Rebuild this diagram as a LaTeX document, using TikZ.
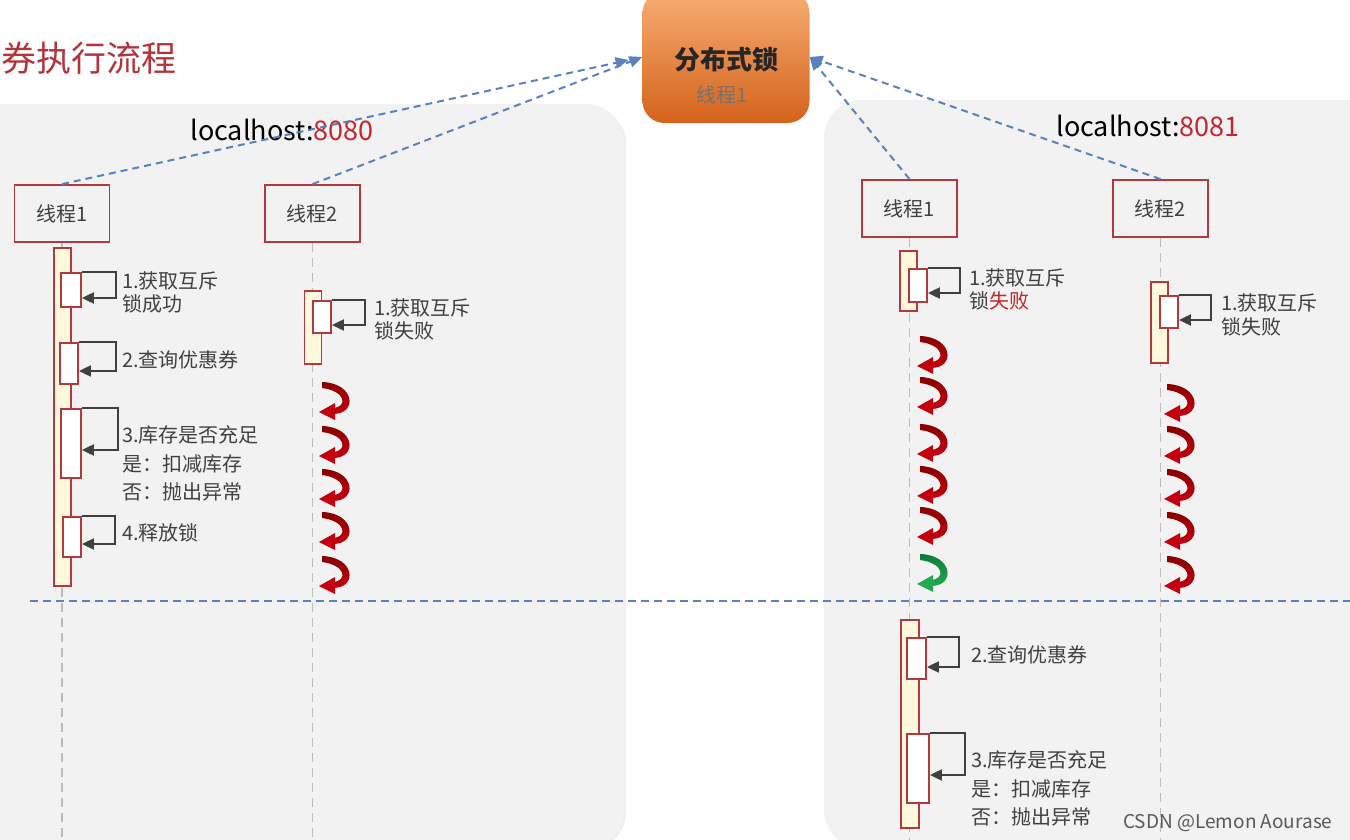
\documentclass[tikz,border=0pt]{standalone}
\usepackage{fontspec}
\setmainfont{Noto Sans CJK SC}
\usepackage{tikz}
\usetikzlibrary{arrows.meta,shadows}
\definecolor{boxred}{HTML}{B23A3E}
\definecolor{portred}{HTML}{C1272D}
\definecolor{titlered}{HTML}{B3343A}
\definecolor{txtgray}{HTML}{404040}
\definecolor{linkblue}{HTML}{5A82BE}
\definecolor{lifegray}{HTML}{BDBDBD}
\definecolor{panelgray}{HTML}{F2F2F2}
\definecolor{barfill}{HTML}{FFF8DC}
\definecolor{spindark}{HTML}{880000}
\definecolor{spinred}{HTML}{C40010}
\definecolor{greendark}{HTML}{0E7A38}
\definecolor{greenlite}{HTML}{24A852}
\definecolor{lockhi}{HTML}{F6AE74}
\definecolor{locklo}{HTML}{D5621A}
\tikzset{
  panel/.style={fill=panelgray, rounded corners=38pt,
    drop shadow={opacity=0.12, shadow xshift=2pt, shadow yshift=-2pt}},
  lockbox/.style={rounded corners=22pt, top color=lockhi, bottom color=locklo,
    minimum width=167pt, minimum height=132pt, inner sep=0pt},
  tbox/.style={draw=boxred, line width=1.8pt, minimum width=95pt, minimum height=57pt,
    inner sep=0pt, text=txtgray, font=\fontsize{20}{24}\selectfont},
  actbar/.style={draw=boxred, line width=1.8pt, fill=barfill, inner sep=0pt, minimum width=17pt},
  inbox/.style={draw=boxred, line width=1.8pt, fill=white, inner sep=0pt},
  lifeline/.style={lifegray, line width=1.6pt, dash pattern=on 9pt off 6pt},
  link/.style={linkblue, line width=2pt, dash pattern=on 7pt off 5pt,
    -{Triangle[length=13pt,width=11pt]}},
  selfarr/.style={draw=txtgray, line width=2pt, -{Triangle[length=12pt,width=11pt]}},
  steplabel/.style={anchor=west, inner sep=0pt, align=left, text=txtgray,
    font=\fontsize{20}{23.5}\selectfont},
}
% self call: box, turn x, arrow y
\newcommand{\selfcall}[3]{\draw[selfarr] (#1.north east) -| (#2,#3) -- (#1.east |- 0,#3);}
% spinning arrow: lifeline x, top y, dark, light
\newcommand{\spin}[4]{%
  \begin{scope}[shift={(#1,#2)}]
    \shade[top color=#3, bottom color=#4] (9,-1) .. controls (42,0) and (45,31) .. (20,31)
      -- (20,25) .. controls (35,24) and (33,8) .. (9,5) -- cycle;
    \fill[#4] (22,20) -- (22,37) -- (6,29) -- cycle;
  \end{scope}}

\begin{document}
\begin{tikzpicture}[x=1pt, y=-1pt]
  \useasboundingbox (0,0) rectangle (1350,840);
  \fill[white] (0,0) rectangle (1350,840);

  % panels
  \fill[panel] (-60,104) rectangle (624,848);
  \fill[panel] (824,100) rectangle (1420,848);

  % title
  \node [anchor=west, inner sep=0pt, text=titlered, font=\fontsize{35}{40}\selectfont] (title) at (1,58) {券执行流程};

  % lock
  \node [lockbox] (lock) at (726,57) {};
  \node [font=\fontsize{26}{30}\selectfont\bfseries, text=black!85] (locktitle) at (726,60) {分布式锁};
  \node [font=\fontsize{20}{24}\selectfont, text=black!55] (lockthr) at (722,95) {线程1};

  % hosts
  \node [font=\fontsize{27}{30}\selectfont] (host1) at (282,130) {localhost:\textcolor{portred}{8080}};
  \node [font=\fontsize{27}{30}\selectfont] (host2) at (1148,126) {localhost:\textcolor{portred}{8081}};

  % threads
  \node [tbox] (l1) at (62,213.5) {线程1};
  \node [tbox] (l2) at (312.5,213.5) {线程2};
  \node [tbox] (r1) at (909.5,208.5) {线程1};
  \node [tbox] (r2) at (1160.5,208.5) {线程2};

  % lifelines
  \draw[lifeline] (l1.south) -- (l1.south |- 0,845);
  \draw[lifeline] (l2.south) -- (l2.south |- 0,845);
  \draw[lifeline] (r1.south) -- (r1.south |- 0,845);
  \draw[lifeline] (r2.south) -- (r2.south |- 0,845);

  % links to lock
  \draw[link, shorten >=14pt] (l1.north) -- (lock.west);
  \draw[link] (l2.north) -- (lock.west);
  \draw[link] (r1.north) -- (lock.east);
  \draw[link] (r2.north) -- (lock.east);

  % divider
  \draw[linkblue, line width=2pt, dash pattern=on 8pt off 5pt] (30,601) -- (1350,601);

  % 8080 thread 1
  \node [actbar, minimum height=338pt] (l1act) at (62.5,417) {};
  \node [inbox, minimum width=20pt, minimum height=34pt] (l1b1) at (71,290) {};
  \node [inbox, minimum width=18pt, minimum height=41pt] (l1b2) at (69,363.5) {};
  \node [inbox, minimum width=20pt, minimum height=69pt] (l1b3) at (71,443.5) {};
  \node [inbox, minimum width=18pt, minimum height=40pt] (l1b4) at (72,537) {};
  \selfcall{l1b1}{116}{298}
  \selfcall{l1b2}{116}{371}
  \selfcall{l1b3}{118}{450}
  \selfcall{l1b4}{115}{544}
  \node [steplabel] (l1s1) at (122,292.5) {1.获取互斥\\锁成功};
  \node [steplabel] (l1s2) at (122,360) {2.查询优惠券};
  \node [steplabel, font=\fontsize{20}{28.5}\selectfont] (l1s3) at (122,463.5) {3.库存是否充足\\是：扣减库存\\否：抛出异常};
  \node [steplabel] (l1s4) at (122,533) {4.释放锁};

  % 8080 thread 2
  \node [actbar, minimum height=73pt] (l2act) at (313,327.5) {};
  \node [inbox, minimum width=18pt, minimum height=32pt] (l2b1) at (322,317) {};
  \selfcall{l2b1}{365}{325}
  \node [steplabel] (l2s1) at (374,319.5) {1.获取互斥\\锁失败};
  \foreach \t in {383,427,470,513,557} {\spin{313}{\t}{spindark}{spinred}}

  % 8081 thread 1
  \node [actbar, minimum height=60pt] (r1act) at (908.5,281) {};
  \node [inbox, minimum width=18pt, minimum height=33pt] (r1b1) at (918,285.5) {};
  \selfcall{r1b1}{960}{293}
  \node [steplabel] (r1s1) at (969,289.5) {1.获取互斥\\锁\textcolor{portred}{失败}};
  \foreach \t in {337,378,425,467,508} {\spin{911}{\t}{spindark}{spinred}}
  \spin{911}{555}{greendark}{greenlite}
  \node [actbar, minimum height=208pt, minimum width=18pt] (r1act2) at (910,724) {};
  \node [inbox, minimum width=19pt, minimum height=41pt] (r1b2) at (916.5,658.5) {};
  \node [inbox, minimum width=22pt, minimum height=69pt] (r1b3) at (918,768.5) {};
  \selfcall{r1b2}{959}{667}
  \selfcall{r1b3}{965}{775}
  \node [steplabel] (r1s2) at (971,655) {2.查询优惠券};
  \node [steplabel, font=\fontsize{20}{28.5}\selectfont] (r1s3) at (971,788.5) {3.库存是否充足\\是：扣减库存\\否：抛出异常};

  % 8081 thread 2
  \node [actbar, minimum height=81pt] (r2act) at (1159.5,322.5) {};
  \node [inbox, minimum width=18pt, minimum height=32pt] (r2b1) at (1169,312) {};
  \selfcall{r2b1}{1211}{320}
  \node [steplabel] (r2s1) at (1221,315) {1.获取互斥\\锁失败};
  \foreach \t in {385,427,470,513,557} {\spin{1158}{\t}{spindark}{spinred}}

  % watermark
  \node [anchor=east, text=black!65, font=\fontsize{19}{22}\selectfont] (mark) at (1336,823) {CSDN @Lemon Aourase};
\end{tikzpicture}
\end{document}
